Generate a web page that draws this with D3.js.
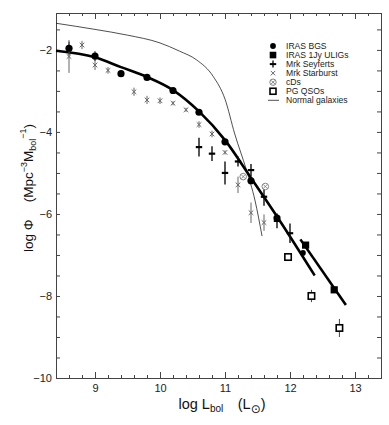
<!DOCTYPE html>
<html>
<head>
<meta charset="utf-8">
<title>Luminosity function</title>
<script src="https://d3js.org/d3.v7.min.js"></script>
<style>
    body { margin: 0; background: #fff; }
    svg { font-family: "Liberation Sans", Arial, sans-serif; }
    .axis path, .axis line { stroke: #444; }
    .axis text { font-size: 11px; fill: #222; }
    .legend text { font-size: 8.6px; fill: #222; }
</style>
</head>
<body>
<div id="chart"></div>
<script>
// IRAS BGS (filled circles)
const bgsX = [8.6, 9.0, 9.4, 9.8, 10.2, 10.6, 11.0, 11.4, 11.8, 12.2];
const bgsY = [-1.96, -2.15, -2.58, -2.67, -2.99, -3.52, -4.24, -5.19, -6.1, -6.95];
const bgsErr = [0.16, 0.12, 0.08, 0.04, 0.04, 0.04, 0.04, 0.04, 0.1, 0.04];

// IRAS 1Jy ULIGs (filled squares)
const uligX = [12.24, 12.68];
const uligY = [-6.76, -7.85];

// Mrk Seyferts (plus)
const seyX = [10.6, 10.8, 11.0, 11.2, 11.4, 11.6, 11.8, 12.0];
const seyY = [-4.37, -4.53, -5.0, -4.72, -4.93, -5.58, -6.17, -6.47];
const seyErr = [0.23, 0.18, 0.28, 0.12, 0.15, 0.22, 0.18, 0.24];

// Mrk Starburst (x)
const sbX = [8.6, 8.8, 9.0, 9.2, 9.6, 9.8, 10.0, 10.2, 10.4, 10.6, 10.8, 11.0, 11.2, 11.4, 11.6];
const sbY = [-2.16, -1.88, -2.37, -2.5, -3.02, -3.22, -3.24, -3.3, -3.46, -3.82, -4.05, -4.5, -5.29, -5.97, -6.21];
const sbErr = [0.4, 0.1, 0.12, 0.08, 0.1, 0.1, 0.08, 0.05, 0.05, 0.08, 0.08, 0.05, 0.2, 0.25, 0.2];

// cDs
const cdX = [11.28, 11.62];
const cdY = [-5.09, -5.33];

// PG QSOs (open squares)
const qsoX = [11.97, 12.33, 12.76];
const qsoY = [-7.05, -8.0, -8.78];
const qsoErr = [0.04, 0.15, 0.22];

// fitted curves
const bgsFitX = [8.4, 9.0, 9.4, 9.8, 10.2, 10.6, 11.0, 11.4, 11.8, 12.38];
const bgsFitY = [-2.02, -2.18, -2.42, -2.66, -2.98, -3.5, -4.2, -5.12, -6.06, -7.5];
const uligFitX = [12.16, 12.86];
const uligFitY = [-6.62, -8.22];

// normal galaxies
const normX = [8.4, 9.0, 9.5, 10.0, 10.3, 10.56, 10.82, 11.0, 11.15, 11.33, 11.46, 11.57];
const normY = [-1.35, -1.5, -1.64, -1.83, -2.03, -2.24, -2.65, -3.2, -4.05, -4.93, -5.66, -6.54];

// axis ticks
const xMajor = [9, 10, 11, 12, 13];
const xMinor = d3.range(8.6, 13.4, 0.2).filter(v => Math.abs(v - Math.round(v)) > 0.01);
const yMajor = [-2, -4, -6, -8, -10];
const yMinor = d3.range(-9.5, -1.1, 0.5).filter(v => !yMajor.includes(v));

const legendNames = ["IRAS BGS", "IRAS 1Jy ULIGs", "Mrk Seyferts", "Mrk Starburst", "cDs", "PG QSOs", "Normal galaxies"];

const W = 389, H = 425;
const margin = { top: 13, right: 8, bottom: 47, left: 56 };

const x = d3.scaleLinear().domain([8.4, 13.4]).range([margin.left, W - margin.right]);
const y = d3.scaleLinear().domain([-10, -1.1]).range([H - margin.bottom, margin.top]);

const svg = d3.select("#chart").append("svg")
    .attr("width", W)
    .attr("height", H);

// axes, all ticks pointing inward
const x0 = H - margin.bottom, x1 = margin.top;
svg.append("g").attr("class", "axis").attr("transform", `translate(0,${x0})`)
    .call(d3.axisBottom(x).tickValues(xMajor).tickSize(-6).tickPadding(6).tickFormat(d3.format("d")));
svg.append("g").attr("class", "axis").attr("transform", `translate(0,${x0})`)
    .call(d3.axisBottom(x).tickValues(xMinor).tickSize(-3).tickFormat(""));
svg.append("g").attr("class", "axis").attr("transform", `translate(0,${x1})`)
    .call(d3.axisTop(x).tickValues(xMajor).tickSize(-6).tickFormat(""));
svg.append("g").attr("class", "axis").attr("transform", `translate(0,${x1})`)
    .call(d3.axisTop(x).tickValues(xMinor).tickSize(-3).tickFormat(""));

const yl = margin.left, yr = W - margin.right;
svg.append("g").attr("class", "axis").attr("transform", `translate(${yl},0)`)
    .call(d3.axisLeft(y).tickValues(yMajor).tickSize(-4).tickPadding(4).tickFormat(d3.format("d")));
svg.append("g").attr("class", "axis").attr("transform", `translate(${yl},0)`)
    .call(d3.axisLeft(y).tickValues(yMinor).tickSize(-4).tickFormat(""));
svg.append("g").attr("class", "axis").attr("transform", `translate(${yr},0)`)
    .call(d3.axisRight(y).tickValues(yMajor.concat(yMinor)).tickSize(-4).tickFormat(""));
svg.selectAll(".axis .domain").attr("stroke", "#444");

// axis titles
const xt = svg.append("text")
    .attr("x", 222).attr("y", 409)
    .attr("text-anchor", "middle")
    .attr("font-size", 14.5).attr("fill", "#111");
xt.append("tspan").text("log L");
xt.append("tspan").attr("font-size", 10).attr("dy", 3).text("bol");
xt.append("tspan").attr("dy", -3).text("\u2003(L");
xt.append("tspan").attr("font-size", 12).attr("dy", 4).attr("font-family", "DejaVu Sans").text("\u2299");
xt.append("tspan").attr("dy", -4).text(")");

const yt = svg.append("text")
    .attr("transform", "translate(33,188) rotate(-90)")
    .attr("text-anchor", "middle")
    .attr("font-size", 13.5).attr("fill", "#111");
yt.append("tspan").text("log \u03A6\u2003 (Mpc");
yt.append("tspan").attr("font-size", 9).attr("dy", -6).text("\u22123");
yt.append("tspan").attr("dy", 6).text("M");
yt.append("tspan").attr("font-size", 9).attr("dy", 3).text("bol");
yt.append("tspan").attr("font-size", 9).attr("dy", -10).text("\u22121");
yt.append("tspan").attr("dy", 7).text(")");

// curves
const line = d3.line().x(d => x(d[0])).y(d => y(d[1])).curve(d3.curveMonotoneX);

svg.append("path")
    .datum(d3.zip(normX, normY))
    .attr("fill", "none").attr("stroke", "#222").attr("stroke-width", 0.8)
    .attr("d", line);
svg.append("path")
    .datum(d3.zip(bgsFitX, bgsFitY))
    .attr("fill", "none").attr("stroke", "#000").attr("stroke-width", 2.6)
    .attr("d", line);
svg.append("path")
    .datum(d3.zip(uligFitX, uligFitY))
    .attr("fill", "none").attr("stroke", "#000").attr("stroke-width", 2.6)
    .attr("d", d3.line().x(d => x(d[0])).y(d => y(d[1])));

// error bars
function errBars(xs, ys, es, color, w) {
    svg.append("g").selectAll("line")
        .data(d3.zip(xs, ys, es))
        .join("line")
        .attr("x1", d => x(d[0])).attr("x2", d => x(d[0]))
        .attr("y1", d => y(d[1] - d[2])).attr("y2", d => y(d[1] + d[2]))
        .attr("stroke", color).attr("stroke-width", w);
}
errBars(sbX, sbY, sbErr, "#666", 1);
errBars(bgsX, bgsY, bgsErr, "#222", 1);
errBars(seyX, seyY, seyErr, "#111", 1.4);
errBars(qsoX, qsoY, qsoErr, "#444", 1);

// marker shapes
function crossPath(s) { return `M${-s},${-s}L${s},${s}M${-s},${s}L${s},${-s}`; }

// starburst
svg.append("g").selectAll("path")
    .data(d3.zip(sbX, sbY))
    .join("path")
    .attr("transform", d => `translate(${x(d[0])},${y(d[1])})`)
    .attr("d", crossPath(2.3))
    .attr("stroke", "#666").attr("stroke-width", 1).attr("fill", "none");

// cDs
const cdG = svg.append("g").selectAll("g")
    .data(d3.zip(cdX, cdY))
    .join("g")
    .attr("transform", d => `translate(${x(d[0])},${y(d[1])})`);
cdG.append("circle").attr("r", 3.3).attr("fill", "#fff").attr("stroke", "#777").attr("stroke-width", 0.9);
cdG.append("path").attr("d", crossPath(2)).attr("stroke", "#777").attr("stroke-width", 0.8);

// BGS
svg.append("g").selectAll("circle")
    .data(d3.zip(bgsX, bgsY))
    .join("circle")
    .attr("cx", d => x(d[0])).attr("cy", d => y(d[1]))
    .attr("r", d => d[0] > 12 ? 2.8 : 3.6)
    .attr("fill", "#000");

// Seyferts
svg.append("g").selectAll("path")
    .data(d3.zip(seyX, seyY))
    .join("path")
    .attr("transform", d => `translate(${x(d[0])},${y(d[1])})`)
    .attr("d", `M-3.2,0L3.2,0`)
    .attr("stroke", "#000").attr("stroke-width", 2.2);

// ULIGs
svg.append("g").selectAll("rect")
    .data(d3.zip(uligX, uligY))
    .join("rect")
    .attr("x", d => x(d[0]) - 3.6).attr("y", d => y(d[1]) - 3.6)
    .attr("width", 7.2).attr("height", 7.2)
    .attr("fill", "#000");

// PG QSOs
svg.append("g").selectAll("rect")
    .data(d3.zip(qsoX, qsoY))
    .join("rect")
    .attr("x", d => x(d[0]) - 3.2).attr("y", d => y(d[1]) - 3.2)
    .attr("width", 6.4).attr("height", 6.4)
    .attr("fill", "#fff").attr("stroke", "#000").attr("stroke-width", 1.6);

// legend
const lg = svg.append("g").attr("class", "legend");
const rowY = i => 46 + i * 9.05;
lg.selectAll("text")
    .data(legendNames)
    .join("text")
    .attr("x", 286).attr("y", (d, i) => rowY(i) + 3)
    .text(d => d);
const sx = 273;
lg.append("circle").attr("cx", sx).attr("cy", rowY(0)).attr("r", 2.9).attr("fill", "#000");
lg.append("rect").attr("x", sx - 3.3).attr("y", rowY(1) - 3.3).attr("width", 6.6).attr("height", 6.6).attr("fill", "#000");
lg.append("path").attr("transform", `translate(${sx},${rowY(2)})`)
    .attr("d", "M-3.2,0L3.2,0").attr("stroke", "#000").attr("stroke-width", 2);
lg.append("path").attr("transform", `translate(${sx},${rowY(2)})`)
    .attr("d", "M0,-3.5L0,3.5").attr("stroke", "#000").attr("stroke-width", 1.3);
lg.append("path").attr("transform", `translate(${sx},${rowY(3)})`)
    .attr("d", crossPath(2.2)).attr("stroke", "#555").attr("stroke-width", 0.9);
lg.append("circle").attr("cx", sx).attr("cy", rowY(4)).attr("r", 3.2).attr("fill", "none").attr("stroke", "#666").attr("stroke-width", 0.8);
lg.append("path").attr("transform", `translate(${sx},${rowY(4)})`)
    .attr("d", crossPath(1.9)).attr("stroke", "#666").attr("stroke-width", 0.8);
lg.append("rect").attr("x", sx - 3).attr("y", rowY(5) - 3).attr("width", 6).attr("height", 6)
    .attr("fill", "#fff").attr("stroke", "#000").attr("stroke-width", 1.6);
lg.append("line").attr("x1", sx - 5).attr("x2", sx + 6).attr("y1", rowY(6)).attr("y2", rowY(6))
    .attr("stroke", "#222").attr("stroke-width", 0.8);
</script>
</body>
</html>
